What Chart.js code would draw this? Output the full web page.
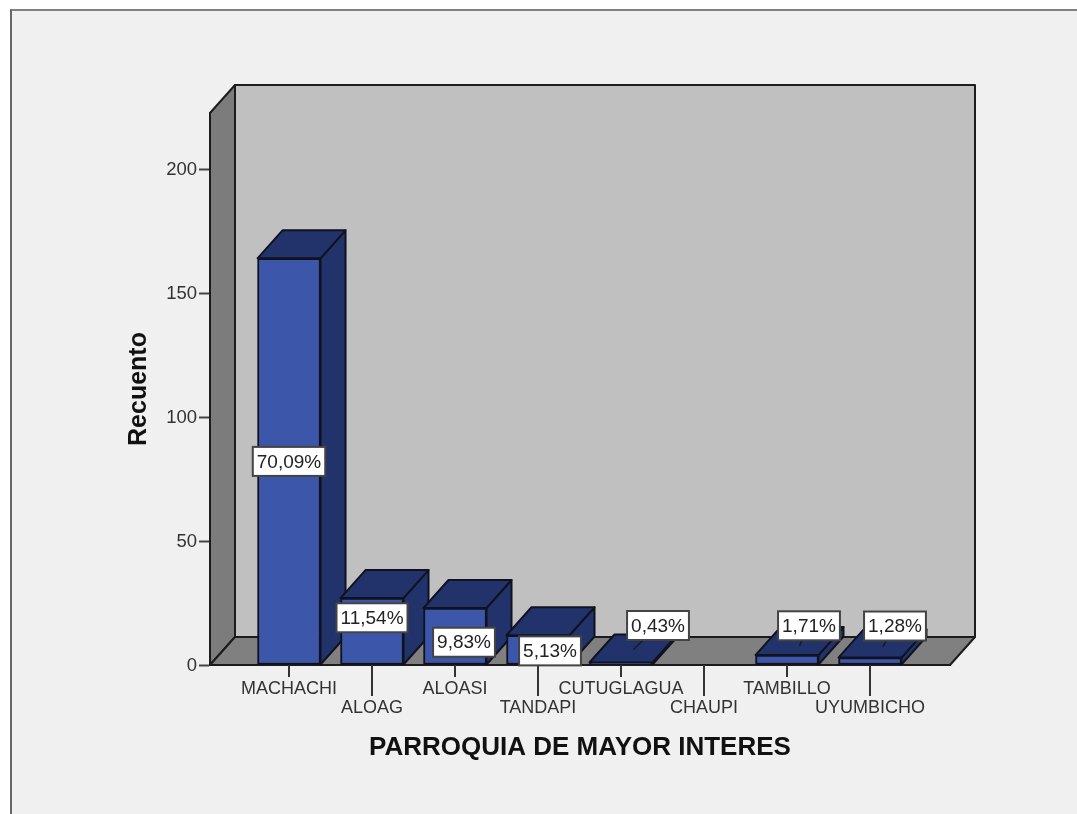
<!DOCTYPE html>
<html>
<head>
<meta charset="utf-8">
<script src="https://cdn.jsdelivr.net/npm/chart.js@4"></script>
<style>
html,body{margin:0;padding:0;background:#fff;width:1077px;height:814px;overflow:hidden}
#panel{position:absolute;left:10px;top:9px;right:0;bottom:0;background:#f0f0f0;border-left:2px solid #666;border-top:2px solid #808080;filter:blur(0.5px)}
#wrap{position:absolute;left:0;top:0;width:1077px;height:814px;filter:blur(0.45px)}
</style>
</head>
<body>
<div id="panel"></div>
<div id="wrap"><canvas id="c" width="1077" height="814"></canvas></div>
<script>
const categories = ['MACHACHI','ALOAG','ALOASI','TANDAPI','CUTUGLAGUA','CHAUPI','TAMBILLO','UYUMBICHO'];
const counts = [164,27,23,12,1,0,4,3];
const percentLabels = ['70,09%','11,54%','9,83%','5,13%','0,43%','','1,71%','1,28%'];
const yTicks = [0,50,100,150,200];

// label placement relative to the middle of each bar's front face (styling, not data)
const labelNudgeX = [0,0,9,12,37,0,22,25];
const labelNudgeY = [0,-13.5,6,1,-38,0,-34,-35];

const DEPTH_X = 25, DEPTH_Y = 28;
const FRONT = '#3c56a9', DARK = '#22336b', EDGE = '#10131f', LINE = '#1c1c1c';
const WALL = '#c0c0c0', SIDE = '#7c7c7c', FLOOR = '#808080';
const FONT = '"Liberation Sans", Arial, sans-serif';

function poly(ctx, pts, fill, stroke, lw){
  ctx.beginPath();
  pts.forEach((p,i)=> i ? ctx.lineTo(p[0],p[1]) : ctx.moveTo(p[0],p[1]));
  ctx.closePath();
  if(fill){ctx.fillStyle=fill;ctx.fill();}
  if(stroke){ctx.strokeStyle=stroke;ctx.lineWidth=lw||2;ctx.lineJoin='round';ctx.stroke();}
}

const box3d = {
  id:'box3d',
  beforeDatasetsDraw(chart){
    const {ctx, chartArea:a} = chart;
    const dx=DEPTH_X, dy=DEPTH_Y;
    ctx.save();
    poly(ctx,[[a.left+dx,a.top-dy],[a.right+dx,a.top-dy],[a.right+dx,a.bottom-dy],[a.left+dx,a.bottom-dy]],WALL,LINE,2);
    poly(ctx,[[a.left,a.top],[a.left+dx,a.top-dy],[a.left+dx,a.bottom-dy],[a.left,a.bottom]],SIDE,LINE,2);
    poly(ctx,[[a.left,a.bottom],[a.left+dx,a.bottom-dy],[a.right+dx,a.bottom-dy],[a.right,a.bottom]],FLOOR,LINE,2);
    const meta = chart.getDatasetMeta(0);
    meta.data.forEach((bar,i)=>{
      if(!counts[i]) return;
      const l=bar.x-bar.width/2, r=bar.x+bar.width/2, t=bar.y, b=bar.base;
      poly(ctx,[[r,t],[r+dx,t-dy],[r+dx,b-dy],[r,b]],DARK,EDGE,2);
      poly(ctx,[[l,t],[l+dx,t-dy],[r+dx,t-dy],[r,t]],DARK,EDGE,2);
    });
    ctx.restore();
  },
  afterDatasetsDraw(chart){
    const {ctx, chartArea:a} = chart;
    const meta = chart.getDatasetMeta(0);
    const xs = chart.scales.x;
    ctx.save();
    ctx.strokeStyle='#333';ctx.lineWidth=2;
    categories.forEach((c,i)=>{
      const x=xs.getPixelForValue(i);
      ctx.beginPath();ctx.moveTo(x,a.bottom);ctx.lineTo(x,a.bottom+(i%2?31:12));ctx.stroke();
    });
    ctx.font='19px '+FONT;
    ctx.textAlign='center';ctx.textBaseline='middle';
    meta.data.forEach((bar,i)=>{
      const txt=percentLabels[i];
      if(!txt) return;
      const midY=(bar.y+bar.base)/2;
      const cx=bar.x+labelNudgeX[i], cy=midY+labelNudgeY[i];
      if(Math.abs(labelNudgeY[i])>20){
        ctx.strokeStyle='#1a1a1a';ctx.lineWidth=1.5;
        ctx.beginPath();ctx.moveTo(bar.x+DEPTH_X/2,midY-DEPTH_Y/2);ctx.lineTo(cx,cy);ctx.stroke();
      }
      const w=ctx.measureText(txt).width+8, h=29;
      ctx.fillStyle='#fff';ctx.strokeStyle='#444';ctx.lineWidth=2;
      ctx.fillRect(cx-w/2,cy-h/2,w,h);ctx.strokeRect(cx-w/2,cy-h/2,w,h);
      ctx.fillStyle='#222';
      ctx.fillText(txt,cx,cy+1);
    });
    ctx.restore();
  }
};

new Chart(document.getElementById('c'),{
  type:'bar',
  data:{datasets:[{
    data:counts.map((v,i)=>({x:i,y:v})),
    backgroundColor:FRONT,
    borderColor:EDGE,
    borderWidth:2,
    borderSkipped:false,
    barThickness:63
  }]},
  plugins:[box3d],
  options:{
    responsive:false,
    animation:false,
    events:[],
    layout:{padding:{left:124,right:127,top:113,bottom:51}},
    plugins:{legend:{display:false},title:{display:false},tooltip:{enabled:false}},
    scales:{
      x:{
        type:'linear',
        offset:false,
        min:-0.952,max:7.964,
        afterBuildTicks(s){s.ticks=categories.map((c,i)=>({value:i}));},
        afterFit(s){s.height=98;},
        grid:{display:false,drawTicks:false,offset:false},
        border:{display:true,color:LINE,width:2},
        ticks:{
          autoSkip:false,maxRotation:0,padding:15,
          color:'#333',
          font:{family:FONT,size:18,lineHeight:1.05},
          callback(v){const n=categories[v];return v%2?['',n]:[n];}
        },
        title:{display:true,text:'PARROQUIA DE MAYOR INTERES',color:'#111',padding:0,
          font:{family:FONT,size:26,weight:'bold'}}
      },
      y:{
        type:'linear',
        min:0,max:222.6,
        afterBuildTicks(s){s.ticks=yTicks.map(v=>({value:v}));},
        afterFit(s){s.width=86;},
        grid:{drawOnChartArea:false,drawTicks:true,tickLength:11,tickWidth:2,tickColor:'#444'},
        border:{display:true,color:LINE,width:2},
        ticks:{padding:2,labelOffset:1,color:'#333',font:{family:FONT,size:18.5}},
        title:{display:true,text:'Recuento',color:'#111',padding:0,
          font:{family:FONT,size:25,weight:'bold'}}
      }
    }
  }
});
</script>
</body>
</html>
